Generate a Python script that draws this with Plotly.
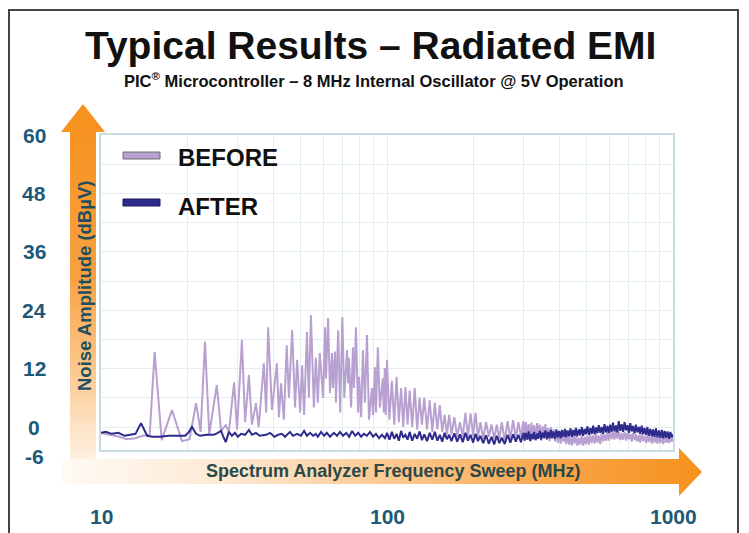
import math
import plotly.graph_objects as go

W, H = 749, 533

# ---------------- data ----------------
# BEFORE: discrete harmonics below 100 MHz (MHz, dBuV)
before_low_mhz = [
    10.0, 10.8, 11.6, 12.3, 13.2, 14.0, 14.8, 15.4, 16.3, 17.7,
    19.2, 20.4, 21.5, 22.3, 23.1, 23.9, 25.4, 26.3, 27.3, 28.0,
    29.2, 29.9, 31.1, 31.9, 32.9, 33.7, 34.8, 35.6, 37.1, 37.8,
    38.4, 39.6, 41.2, 41.9, 42.6, 43.6, 44.6, 45.4, 46.6, 47.7,
    48.5, 49.7, 50.5, 51.3, 52.5, 53.3, 54.2, 55.5, 56.4, 57.3,
    58.2, 59.8, 60.7, 61.2, 62.2, 63.2, 64.2, 64.7, 65.8, 66.3,
    67.5, 68.6, 69.8, 70.9, 72.5, 73.1, 73.6, 74.9, 76.0, 76.7,
    77.9, 79.2, 79.9, 81.2, 82.4, 83.7, 85.1, 86.5, 88.6, 89.4,
    90.8, 91.5, 92.9, 94.4, 96.7, 97.4, 98.2, 99.0,
]
before_low_db = [
    -1.2, -1.6, -2.0, -2.5, -2.3, -1.8, -1.6, 15.4, -2.7, 3.5,
    -2.9, -2.5, 4.9, -1.0, 17.5, -1.5, 8.6, -0.8, 0.4, -1.0,
    9.2, -0.5, 17.9, 1.0, 10.7, 0.5, 4.9, 0.0, 13.1, 3.0,
    20.5, 3.5, 13.1, 2.0, 9.0, 1.5, 16.8, 6.0, 19.9, 4.0,
    13.8, 3.0, 12.7, 2.5, 19.5, 6.0, 23.0, 4.0, 14.2, 5.0,
    15.2, 6.0, 20.5, 10.0, 22.4, 7.0, 15.2, 8.0, 15.5, 5.0,
    19.9, 3.0, 22.6, 6.0, 15.8, 9.0, 14.2, 4.0, 16.4, 8.0,
    20.5, 3.0, 10.3, 2.0, 15.8, 5.0, 18.9, 1.5, 8.0, 2.5,
    12.3, 3.0, 16.4, 4.0, 10.0, 3.0, 12.1, 2.5,
]

# AFTER: below 100 MHz (MHz, dBuV)
after_low_mhz = [
    10.0, 10.4, 10.9, 11.5, 12.1, 12.6, 13.2, 13.8, 14.5, 15.1,
    16.1, 17.2, 18.1, 19.7, 20.3, 20.8, 21.5, 22.2, 23.4, 24.8,
    25.6, 26.3, 26.7, 27.3, 28.0, 28.7, 29.4, 30.1, 30.9, 31.9,
    32.9, 33.7, 34.8, 35.9, 37.8, 39.0, 40.4, 41.6, 42.9, 44.0,
    45.8, 46.9, 48.5, 50.0, 51.3, 52.5, 53.8, 55.1, 56.4, 57.3,
    58.8, 60.3, 61.6, 63.2, 65.2, 66.9, 68.5, 70.2, 72.0, 73.7,
    75.5, 77.4, 79.3, 81.2, 83.0, 85.1, 87.2, 89.4, 91.5, 93.8,
    96.0, 98.4,
]
after_low_db = [
    -1.2, -1.0, -1.4, -1.2, -1.8, -1.6, -1.4, 0.8, -1.8, -2.0,
    -2.0, -1.8, -1.8, -1.8, -1.0, 0.0, -1.4, -1.8, -1.6, -1.6,
    -1.2, -0.8, -1.8, -3.1, -1.0, -1.8, -1.2, -2.0, -1.4, -1.6,
    -0.6, -1.6, -1.2, -1.8, -1.6, -1.2, -2.0, -1.6, -1.4, -2.0,
    -1.0, -1.8, -1.4, -1.8, -0.8, -1.8, -1.2, -1.8, -1.4, -2.0,
    -1.0, -1.8, -1.2, -2.0, -1.2, -1.8, -1.0, -1.8, -1.2, -2.0,
    -0.8, -1.8, -1.2, -2.0, -1.4, -1.8, -1.0, -2.0, -1.4, -2.3,
    -1.6, -2.3,
]

# Dense sweep points, 100 MHz - 1 GHz (shared by both traces)
sweep_mhz = [
    100, 102, 104, 106, 108, 110, 112, 114, 116, 118,
    120, 122.5, 125, 127.5, 130, 132.5, 135, 138, 141, 144,
    147, 150, 153, 156, 159, 162, 165, 168, 172, 176,
    180, 184, 188, 192, 196, 200, 204, 208, 212, 217,
    222, 227, 232, 237, 242, 247, 252, 258, 264, 270,
    276, 282, 288, 294, 300,
    303, 306, 310, 313, 317, 320, 324, 327, 331, 335,
    338, 342, 346, 350, 354, 358, 362, 366, 370, 374,
    378, 382, 387, 391, 396, 400, 405, 409, 414, 419,
    423, 428, 433, 438, 443, 448, 453, 458, 463, 469,
    474, 480, 485, 491, 496, 502, 508, 514, 520, 526,
    532, 538, 544, 550, 557, 563, 570, 576, 583, 590,
    596, 603, 610, 617, 624, 632, 639, 646, 654, 661,
    669, 677, 685, 693, 701, 709, 717, 725, 734, 742,
    751, 760, 768, 777, 786, 795, 805, 814, 823, 833,
    843, 852, 862, 872, 882, 893, 903, 914, 924, 935,
    946, 957, 968, 979, 990, 1000,
]
before_sweep_db = [
    13.8, 1.5, 9.5, 0.5, 10.3, 1.0, 8.0, 0.0, 8.2, 0.5,
    7.5, 0.0, 8.0, -0.5, 6.0, 0.5, 6.0, -0.5, 5.5, -1.0,
    5.0, -0.5, 4.5, -1.0, 2.5, -1.5, 2.5, -1.5, 2.0, -2.0,
    1.0, -2.0, 2.9, -2.0, 2.8, -1.8, 2.9, -2.0, 1.0, -2.5,
    1.0, -2.0, 0.5, -2.5, 0.5, -2.5, 1.0, -2.8, 1.2, -2.5,
    1.4, -2.5, 1.0, -2.0, 1.2,
    -2.6, 1.0, -2.2, 0.6, -2.8, 0.9, -2.4, 0.4, -2.6, 0.8,
    -2.2, 0.5, -2.8, 0.2, -2.4, 0.6, -2.6, -0.2, -2.9, 0.0,
    -2.5, -0.5, -3.0, -0.8, -3.2, -1.0, -3.4, -1.2, -3.0, -1.5,
    -3.5, -1.4, -3.6, -2.0, -3.8, -1.6, -3.4, -1.8, -3.8, -2.2,
    -3.6, -1.8, -3.8, -2.0, -3.5, -1.8, -3.6, -1.5, -3.3, -1.7,
    -3.4, -1.5, -3.2, -1.8, -3.5, -1.2, -3.0, -1.5, -2.8, -1.0,
    -2.8, -0.8, -2.5, -1.0, -2.6, -0.6, -2.4, -0.9, -2.7, -1.2,
    -2.6, -1.0, -2.8, -1.2, -2.5, -1.4, -3.0, -1.2, -2.7, -1.5,
    -3.0, -1.6, -3.2, -1.4, -2.9, -1.8, -3.3, -1.6, -3.1, -1.9,
    -3.4, -1.8, -3.2, -2.0, -3.4, -1.9, -3.3, -2.1, -3.5, -2.0,
    -3.2, -2.2, -3.3, -2.0, -3.0, -2.2,
]
after_sweep_db = [
    -1.2, -2.6, -1.0, -2.4, -1.4, -2.8, -0.8, -2.2, -1.6, -2.6,
    -1.0, -2.8, -1.4, -2.4, -0.9, -2.7, -1.5, -2.9, -1.2, -2.6,
    -1.0, -2.8, -1.6, -3.0, -1.2, -2.5, -1.6, -2.9, -1.3, -3.0,
    -1.5, -3.1, -1.2, -2.8, -1.6, -3.2, -1.4, -2.9, -1.8, -3.3,
    -1.7, -3.4, -2.0, -3.6, -1.8, -3.3, -2.2, -3.5, -1.6, -3.2,
    -1.5, -3.0, -1.6, -3.1, -1.2,
    -2.8, -1.2, -2.6, -0.9, -2.9, -1.4, -2.5, -1.0, -2.7, -1.3,
    -2.4, -0.8, -2.6, -1.1, -2.2, -0.7, -2.5, -1.0, -2.3, -0.6,
    -2.2, -0.9, -2.4, -0.5, -2.1, -0.8, -2.3, -0.6, -2.0, -0.4,
    -2.1, -0.7, -1.9, -0.3, -2.0, -0.6, -1.8, -0.2, -1.9, -0.5,
    -1.7, 0.0, -1.8, -0.4, -1.5, 0.1, -1.6, -0.2, -1.4, 0.3,
    -1.5, -0.1, -1.3, 0.4, -1.2, 0.0, -1.4, 0.6, -1.1, 0.2,
    -1.2, 0.5, -1.0, 0.9, -0.9, 0.3, -1.1, 1.2, -0.8, 0.6,
    -1.0, 1.0, -0.7, 0.4, -1.2, 0.8, -0.9, 0.2, -1.3, 0.5,
    -1.1, 0.0, -1.4, 0.3, -1.5, -0.2, -1.6, 0.0, -1.8, -0.4,
    -1.9, -0.5, -2.0, -0.3, -2.1, -0.7, -2.2, -0.6, -2.3, -0.8,
    -2.2, -0.9, -2.4, -1.0, -2.1, -1.5,
]

y_tick_values = [60, 48, 36, 24, 12, 0, -6]
x_tick_values = [10, 100, 1000]
x_grid_mhz = [10, 20, 30, 40, 50, 60, 70, 80, 90,
              100, 200, 300, 400, 500, 600, 700, 800, 900, 1000]
y_grid_db = [0, 6, 12, 18, 24, 30, 36, 42, 48, 54, 60]

freq_before = before_low_mhz + sweep_mhz
db_before = before_low_db + before_sweep_db
freq_after = after_low_mhz + sweep_mhz
db_after = after_low_db + after_sweep_db

# ---------------- geometry ----------------
X_DOM = (101 / W, 673 / W)
Y_DOM = (1 - 450 / H, 1 - 135 / H)
Y_RANGE = (-4.72, 60)
X_RANGE = (1, 3)  # log10(MHz)


def y_paper(v):
    return Y_DOM[0] + (v - Y_RANGE[0]) / (Y_RANGE[1] - Y_RANGE[0]) * (Y_DOM[1] - Y_DOM[0])


def x_paper(f):
    return X_DOM[0] + (math.log10(f) - X_RANGE[0]) / (X_RANGE[1] - X_RANGE[0]) * (X_DOM[1] - X_DOM[0])


FONT = "Liberation Sans, Arial, sans-serif"
BEFORE_COLOR = "#b8a0d1"
AFTER_COLOR = "#2e2b8c"
TICK_COLOR = "#1d5a7a"

fig = go.Figure()

# spectrum traces
fig.add_trace(go.Scatter(x=freq_before, y=db_before, mode="lines",
                         line=dict(color=BEFORE_COLOR, width=2), name="BEFORE"))
fig.add_trace(go.Scatter(x=freq_after, y=db_after, mode="lines",
                         line=dict(color=AFTER_COLOR, width=2), name="AFTER"))

# gradient arrows drawn on a full-page pixel frame
v_arrow_x = [83, 105, 96, 96, 70, 70, 61, 83]
v_arrow_y = [104, 132, 132, 482, 482, 132, 132, 104]
fig.add_trace(go.Scatter(
    x=v_arrow_x, y=v_arrow_y, xaxis="x2", yaxis="y2", mode="lines",
    fill="toself", line=dict(width=0), hoverinfo="skip",
    fillgradient=dict(type="vertical", start=104, stop=482,
                      colorscale=[[0, "#f6911c"], [0.45, "#f8a040"], [0.68, "#fbc485"],
                                  [0.86, "#fde4c8"], [1, "#fffaf5"]])))

h_arrow_x = [62, 679, 679, 702, 679, 679, 62, 62]
h_arrow_y = [459, 459, 448, 472, 496, 484, 484, 459]
fig.add_trace(go.Scatter(
    x=h_arrow_x, y=h_arrow_y, xaxis="x2", yaxis="y2", mode="lines",
    fill="toself", line=dict(width=0), hoverinfo="skip",
    fillgradient=dict(type="horizontal", start=62, stop=702,
                      colorscale=[[0, "#fffaf4"], [0.25, "#fde9d4"], [0.55, "#fbc487"],
                                  [0.8, "#f8a243"], [1, "#f6911c"]])))

annotations = []


def label(x, y, text, size, color, xanchor="center", angle=0):
    annotations.append(dict(x=x, y=y, xref="paper", yref="paper", text=text,
                            showarrow=False, xanchor=xanchor, yanchor="middle",
                            textangle=angle,
                            font=dict(family=FONT, size=size, color=color)))


# title block
label(370 / W, 1 - 46 / H, "<b>Typical Results – Radiated EMI</b>", 39, "#111111")
label(374 / W, 1 - 80 / H,
      "<b>PIC<sup>®</sup> Microcontroller – 8 MHz Internal Oscillator @ 5V Operation</b>",
      16.5, "#111111")

# y tick labels
for v in y_tick_values:
    label(34 / W, y_paper(v), f"<b>{v}</b>", 21, TICK_COLOR)

# x tick labels
for f in x_tick_values:
    label(x_paper(f), 1 - 516 / H, f"<b>{f}</b>", 21, TICK_COLOR)

# axis titles on the arrows
label(84 / W, 1 - 286 / H, "<b>Noise Amplitude (dBµV)</b>", 18.5, "#1f4e5f", angle=-90)
label(393 / W, 1 - 471 / H, "<b>Spectrum Analyzer Frequency Sweep (MHz)</b>", 18, "#2b4848")

# legend labels
label(176 / W, 1 - 158 / H, "<b>BEFORE</b>", 24, "#111111", xanchor="left")
label(176 / W, 1 - 206 / H, "<b>AFTER</b>", 24, "#111111", xanchor="left")

shapes = [
    # legend swatches
    dict(type="rect", xref="paper", yref="paper", x0=123 / W, x1=160 / W,
         y0=1 - 159 / H, y1=1 - 152 / H, fillcolor=BEFORE_COLOR,
         line=dict(color="#6e6e6e", width=1)),
    dict(type="rect", xref="paper", yref="paper", x0=123 / W, x1=160 / W,
         y0=1 - 206 / H, y1=1 - 199 / H, fillcolor=AFTER_COLOR,
         line=dict(color="#1c1a5c", width=1)),
    # outer frame
    dict(type="rect", xref="paper", yref="paper", x0=9 / W, x1=738 / W,
         y0=-0.05, y1=1 - 10 / H, line=dict(color="#444444", width=2), layer="above"),
]

grid_color = "#e2eff1"
frame_color = "#c8dce1"

fig.update_layout(
    width=W, height=H,
    margin=dict(l=0, r=0, t=0, b=0),
    paper_bgcolor="white",
    plot_bgcolor="rgba(0,0,0,0)",
    showlegend=False,
    xaxis=dict(type="log", domain=list(X_DOM), range=list(X_RANGE),
               tickvals=x_grid_mhz, showticklabels=False, ticks="",
               showgrid=True, gridcolor=grid_color, gridwidth=1, zeroline=False,
               showline=True, mirror=True, linecolor=frame_color, linewidth=1.5,
               fixedrange=True),
    yaxis=dict(domain=list(Y_DOM), range=list(Y_RANGE),
               tickvals=y_grid_db, showticklabels=False, ticks="",
               showgrid=True, gridcolor=grid_color, gridwidth=1, zeroline=False,
               showline=True, mirror=True, linecolor=frame_color, linewidth=1.5,
               fixedrange=True),
    xaxis2=dict(domain=[0, 1], range=[0, W], visible=False, anchor="y2", fixedrange=True),
    yaxis2=dict(domain=[0, 1], range=[H, 0], visible=False, anchor="x2", fixedrange=True),
    annotations=annotations,
    shapes=shapes,
)

fig.write_html("out.html")
